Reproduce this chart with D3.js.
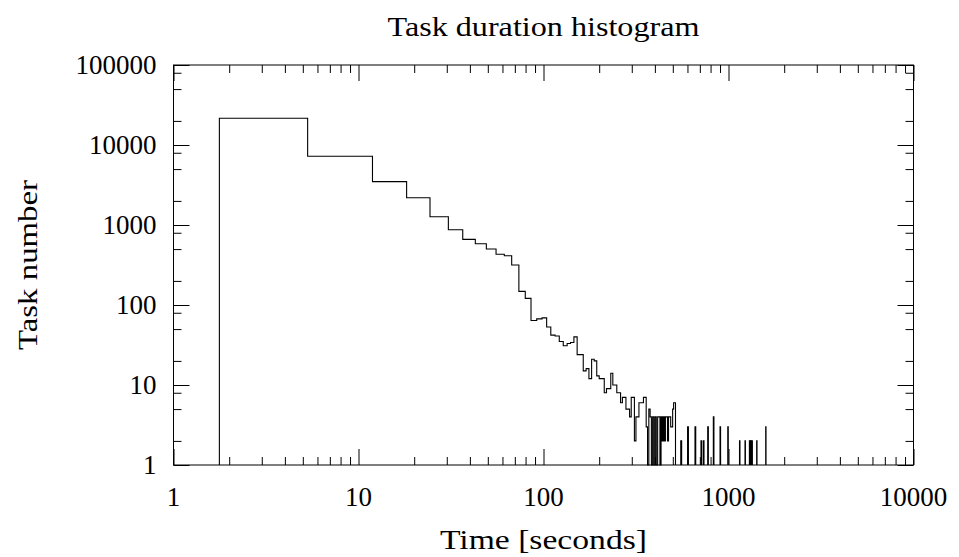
<!DOCTYPE html>
<html>
<head>
<meta charset="utf-8">
<script src="https://cdn.jsdelivr.net/npm/d3@7"></script>
<style>
  body { margin: 0; background: #fff; }
  text { font-family: "Liberation Serif", "Times New Roman", serif; fill: #000; }
</style>
</head>
<body>
<svg id="chart" width="959" height="557"></svg>
<script>
// Continuous part of the histogram: bin edges (seconds) and counts per bin
const edges = [1.77, 5.31, 11.9, 18.2, 24.35, 30.6, 36.6, 42.8, 49.1, 55.4,
    61.4, 67.3, 73.6, 79.7, 85.6, 91.9, 98.2, 104, 109.5, 115.5,
    121.7, 127.9, 134.2, 140, 146, 152, 158,
    164, 170, 176, 182, 188, 194, 200, 206, 213, 219,
    225, 231, 237, 243, 249, 255, 261, 267, 273, 279,
    286, 292, 298, 304, 310, 316, 322, 328, 334, 340,
    347, 353, 359, 365, 371, 377, 383, 389, 395, 401,
    407, 414, 420, 426, 432, 438, 444, 450, 456, 462,
    468, 474, 481, 487, 493, 499, 505, 511, 517];
const counts = [21600, 7230, 3480, 2190, 1270, 873, 662, 583, 501, 430,
    413, 316, 148, 121, 64, 67, 69, 53, 42, 41,
    35, 31, 33, 34, 40, 24, 24,
    15, 16, 12, 21, 20, 13, 12, 12, 8, 9,
    9, 14, 10, 10, 8, 8, 6, 7, 7, 5,
    5, 4, 7, 7, 2, 4, 4, 6, 6, 6,
    7, 7, 3, 1, 5, 4, 1, 4, 1, 4,
    1, 4, 4, 1, 4, 2, 4, 2, 4, 4,
    2, 4, 4, 3, 3, 5, 6, 6];

// Isolated bins in the long tail
const spikeStart = [552, 601, 659, 710, 731, 772, 828, 900, 991, 1147, 1228, 1297, 1310, 1324, 1340, 1420, 1589];
const spikeCount = [2, 3, 3, 2, 2, 3, 4, 3, 3, 2, 2, 2, 2, 2, 2, 2, 3];
const binWidth = 6.1;

// Axis ticks
const xMajor = [1, 10, 100, 1000, 10000];
const xMinorMult = [2, 3, 4, 5, 6, 7, 8, 9];
const yMajor = [1, 10, 100, 1000, 10000, 100000];
const yMinorMult = [2, 5, 8];

const title = 'Task duration histogram';
const xTitle = 'Time [seconds]';
const yTitle = 'Task number';

const W = 959, H = 557;
const m = { top: 65, right: 45.5, bottom: 92, left: 173.5 };
const w = W - m.left - m.right;
const h = H - m.top - m.bottom;

const svg = d3.select('#chart');
const g = svg.append('g').attr('transform', `translate(${m.left},${m.top})`);

const x = d3.scaleLog().domain([1, 10000]).range([0, w]);
const y = d3.scaleLog().domain([1, 100000]).range([h, 0]);

const minorOf = (majors, mults) => majors.slice(0, -1).flatMap(v => mults.map(k => v * k));
const xMinor = minorOf(xMajor, xMinorMult);
const yMinor = minorOf(yMajor, yMinorMult);

// Ticks (inward on all four sides)
function tickGroup(axis, vals, size, transform) {
    const a = g.append('g').attr('transform', transform || null)
        .call(axis.tickValues(vals).tickSize(size).tickFormat(''));
    a.select('.domain').remove();
    a.selectAll('line').attr('stroke', '#000').attr('stroke-width', 1);
}
tickGroup(d3.axisBottom(x), xMajor, -16, `translate(0,${h})`);
tickGroup(d3.axisBottom(x), xMinor, -8, `translate(0,${h})`);
tickGroup(d3.axisTop(x), xMajor, -16);
tickGroup(d3.axisTop(x), xMinor, -8);
tickGroup(d3.axisLeft(y), yMajor, -16);
tickGroup(d3.axisLeft(y), yMinor, -8);
tickGroup(d3.axisRight(y), yMajor, -16, `translate(${w},0)`);
tickGroup(d3.axisRight(y), yMinor, -8, `translate(${w},0)`);

// Frame
g.append('rect')
    .attr('x', 0).attr('y', 0).attr('width', w).attr('height', h)
    .attr('fill', 'none').attr('stroke', '#000').attr('stroke-width', 1);

// Tick labels
g.selectAll('.xl').data(xMajor).enter().append('text')
    .attr('x', d => x(d)).attr('y', h + 32)
    .attr('text-anchor', 'middle').attr('dominant-baseline', 'central')
    .attr('font-size', '27px').text(d => d);

g.selectAll('.yl').data(yMajor).enter().append('text')
    .attr('x', -17).attr('y', d => y(d))
    .attr('text-anchor', 'end').attr('dominant-baseline', 'central')
    .attr('font-size', '27px').text(d => d);

// Histogram steps
const line = d3.line()
    .x(d => x(d[0])).y(d => y(d[1]))
    .curve(d3.curveStepAfter);

const pts = [[edges[0], 1]];
edges.forEach((e, i) => { if (i < counts.length) pts.push([e, counts[i]]); });
pts.push([edges[edges.length - 1], 1]);

g.append('path').datum(pts)
    .attr('d', line)
    .attr('fill', 'none').attr('stroke', '#000').attr('stroke-width', 1.1);

spikeStart.forEach((s, i) => {
    g.append('path').datum([[s, 1], [s, spikeCount[i]], [s + binWidth, 1]])
        .attr('d', line)
        .attr('fill', 'none').attr('stroke', '#000').attr('stroke-width', 1.1);
});

// Titles (stretched a little to the wider TeX-like set width)
svg.append('text')
    .attr('x', m.left + w / 2).attr('y', 27)
    .attr('text-anchor', 'middle').attr('dominant-baseline', 'central')
    .attr('font-size', '27px')
    .attr('textLength', 312).attr('lengthAdjust', 'spacingAndGlyphs')
    .text(title);

svg.append('text')
    .attr('x', m.left + w / 2).attr('y', 540)
    .attr('text-anchor', 'middle').attr('dominant-baseline', 'central')
    .attr('font-size', '27px')
    .attr('textLength', 207).attr('lengthAdjust', 'spacingAndGlyphs')
    .text(xTitle);

svg.append('text')
    .attr('transform', `translate(28,${m.top + h / 2}) rotate(-90)`)
    .attr('text-anchor', 'middle').attr('dominant-baseline', 'central')
    .attr('font-size', '27px')
    .attr('textLength', 170).attr('lengthAdjust', 'spacingAndGlyphs')
    .text(yTitle);
</script>
</body>
</html>
